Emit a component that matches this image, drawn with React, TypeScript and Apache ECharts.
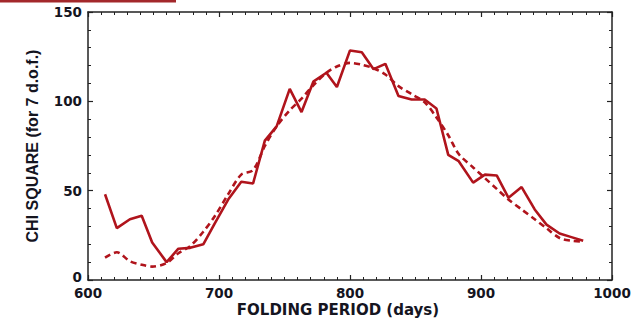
import React, { useEffect, useRef } from "react";
import * as echarts from "echarts";

const periods = [613, 622, 632, 641, 649, 660, 669, 678, 688, 697, 707, 717, 726, 735, 744, 754, 763, 772, 782, 790, 800, 809, 818, 827, 837, 847, 857, 866, 875, 883, 894, 903, 912, 921, 931, 941, 950, 960, 969, 978];
const chiObserved = [48, 29, 34, 36, 21, 10, 17.5, 18, 20, 32, 45, 55, 54, 78, 86, 107, 94, 111, 116, 108, 128.5, 127.5, 118, 121, 103, 101, 101, 96, 70, 66.5, 54.5, 59, 58.5, 46, 52, 39.5, 31, 26, 24, 22];
const chiModel = [12.5, 15.5, 10.5, 8.5, 7.5, 9.5, 15, 19, 27, 36, 48, 59, 61.5, 75, 86, 95, 101.5, 109, 116, 119.5, 121.5, 120.5, 118.5, 115, 108.5, 104, 99.5, 91, 81, 70.5, 63, 57, 51, 45, 39.5, 34, 29, 23.5, 22, 21.5];
const xTicks = [600, 700, 800, 900, 1000];
const yTicks = [0, 50, 100, 150];

const RED = "#b0141c";
const INK = "#15151f";

export default function App() {
  const ref = useRef<HTMLDivElement>(null);
  useEffect(() => {
    if (!ref.current) return;
    const chart = echarts.init(ref.current, undefined, { renderer: "svg" });
    const labelFont = { fontFamily: "DejaVu Sans", fontWeight: "bold" as const, fontSize: 13.5, color: INK };
    const axisLine = { show: true, onZero: false, lineStyle: { color: "#222", width: 1.5 } };
    const common = (pos: string) => ({
      axisLine,
      axisTick: { show: true, inside: true, length: 5, lineStyle: { color: "#222", width: 1.2 } },
      splitLine: { show: false },
      position: pos,
      axisLabel: { show: false },
    });
    const xMinor = { show: true, splitNumber: 10, length: 3, lineStyle: { color: "#222", width: 1 } };
    const yMinor = { show: true, splitNumber: 5, length: 3, lineStyle: { color: "#222", width: 1 } };
    chart.setOption({
      animation: false,
      backgroundColor: "#ffffff",
      grid: { left: 88, right: 29, top: 12, bottom: 40 },
      xAxis: [
        {
          type: "value", min: xTicks[0], max: xTicks[xTicks.length - 1], interval: 100, ...common("bottom"), minorTick: xMinor,
          axisLabel: { ...labelFont, margin: 6, formatter: (v: number) => String(v) },
        },
        { type: "value", min: xTicks[0], max: xTicks[xTicks.length - 1], interval: 100, ...common("top"), minorTick: xMinor },
      ],
      yAxis: [
        {
          type: "value", min: yTicks[0], max: yTicks[yTicks.length - 1], interval: 50, ...common("left"),
          minorTick: yMinor,
          axisLabel: {
            ...labelFont, margin: 6,
            formatter: (v: number) => (v === 0 ? "{z|0}" : String(v)),
            rich: { z: { ...labelFont, padding: [0, 0, 6, 0] } },
          },
          name: "CHI SQUARE (for 7 d.o.f.)", nameLocation: "middle", nameGap: 49,
          nameTextStyle: { fontFamily: "Liberation Sans", fontWeight: "bold", fontSize: 16, lineHeight: 14, color: INK },
        },
        {
          type: "value", min: yTicks[0], max: yTicks[yTicks.length - 1], interval: 50, ...common("right"),
          minorTick: yMinor,
        },
      ],
      graphic: [
        { type: "rect", left: 0, top: 0, shape: { width: 176, height: 2.5 }, style: { fill: "#a3282b" } },
        {
          type: "text", x: 338, y: 310,
          style: { text: "FOLDING PERIOD (days)", fontFamily: "DejaVu Sans", fontWeight: "bold", fontSize: 15, fill: INK, align: "center", verticalAlign: "middle" },
        },
      ],
      series: [
        {
          type: "line", name: "observed", showSymbol: false, symbol: "none",
          data: periods.map((p, i) => [p, chiObserved[i]]),
          lineStyle: { color: RED, width: 2.6 },
        },
        {
          type: "line", name: "model", showSymbol: false, symbol: "none", smooth: 0.3,
          data: periods.map((p, i) => [p, chiModel[i]]),
          lineStyle: { color: RED, width: 2.6, type: [6, 4] },
        },
      ],
    });
    return () => chart.dispose();
  }, []);
  return <div ref={ref} style={{ width: 641, height: 320, position: "absolute", left: 0, top: 0 }} />;
}
